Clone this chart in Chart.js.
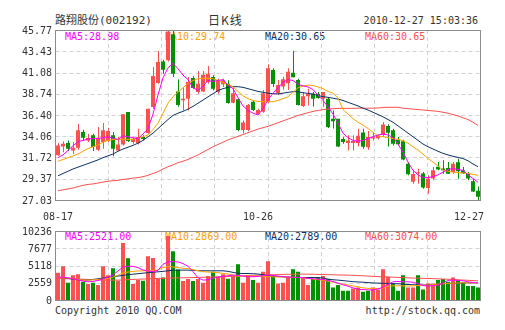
<!DOCTYPE html>
<html>
<head>
<meta charset="utf-8">
<script src="https://cdn.jsdelivr.net/npm/chart.js@4.4.1/dist/chart.umd.min.js"></script>
<style>
  body { margin: 0; background: #fff; }
  #wrap { position: relative; width: 505px; height: 330px; overflow: hidden; }
  #wrap canvas { position: absolute; left: 0; top: 0; }
  .t { position: absolute; white-space: nowrap; font: 10px "DejaVu Sans Mono", monospace; line-height: 12px; color: #333; }
</style>
</head>
<body>
<div id="wrap">
  <div class="t" style="left:55px;top:15px;font-size:11px;font-family:'DejaVu Sans Mono','Noto Sans CJK SC'">路翔股份(002192)</div>
  <div class="t" style="left:208px;top:14px;font-size:12px;font-family:'Noto Sans CJK SC';letter-spacing:1px">日K线</div>
  <div class="t" style="right:27px;top:15px">2010-12-27 15:03:36</div>
  <div class="t" style="left:55px;top:305px">Copyright 2010 QQ.COM</div>
  <div class="t" style="right:25px;top:305px">http://stock.qq.com</div>
  <div id="legends"></div>
  <canvas id="price-chart" width="505" height="330"></canvas>
  <canvas id="volume-chart" width="505" height="330"></canvas>
</div>
<script>
// daily candles, 08-17 .. 12-27
const open  = [31.95,32.94,33.31,32.50,32.80,34.52,33.60,34.16,32.58,33.42,33.53,34.16,32.50,33.16,36.73,33.42,33.31,33.97,34.41,37.28,
               39.93,42.31,42.43,45.30,39.00,38.02,38.20,40.48,38.93,39.00,40.04,40.60,38.93,39.78,39.85,37.76,38.13,34.75,34.75,37.87,
               36.51,36.77,37.87,41.36,38.79,39.53,39.89,41.07,40.26,37.39,38.46,38.75,38.75,38.20,38.20,36.00,35.99,33.75,33.31,33.30,
               33.30,34.48,32.85,33.80,33.85,34.20,35.19,34.73,33.66,33.50,31.02,29.05,29.97,29.95,28.35,29.40,30.69,30.50,30.55,30.13,
               31.20,30.30,29.91,29.10,28.04];
const high  = [33.30,33.50,33.60,33.42,35.44,34.78,34.34,34.34,35.08,35.52,35.00,34.52,33.97,36.47,36.73,33.97,34.89,34.16,37.10,41.69,
               43.45,42.50,45.77,45.77,40.30,39.50,40.60,40.66,41.25,41.25,41.80,40.77,40.40,40.40,40.22,39.50,38.20,35.80,37.60,37.94,
               37.10,39.15,42.00,41.55,40.26,40.63,41.55,43.49,40.40,38.93,39.30,38.93,38.93,38.93,38.38,36.90,36.00,33.97,34.16,34.16,
               34.89,34.89,34.63,34.52,34.20,35.63,35.37,34.89,33.97,33.68,31.22,30.30,30.48,30.11,29.75,30.67,31.22,31.40,31.22,31.22,
               31.58,30.67,30.11,29.38,28.53];
const low   = [31.90,32.28,32.43,32.10,32.58,33.60,33.42,32.43,32.43,32.69,33.42,31.84,32.43,33.05,33.42,33.24,33.16,33.60,34.34,37.10,
               39.85,40.95,42.30,40.60,37.30,36.90,36.90,39.30,38.75,38.93,39.85,39.12,38.75,39.50,37.65,37.70,34.60,34.40,34.60,36.84,
               36.40,36.66,37.70,39.50,38.60,39.19,39.16,40.55,37.46,37.28,37.46,37.35,38.20,37.28,34.97,34.90,32.87,33.24,32.50,32.50,
               32.94,32.69,32.58,33.60,33.70,33.97,32.94,33.05,33.05,31.40,29.75,28.83,28.83,28.28,27.73,29.20,30.30,29.93,29.93,29.93,
               29.38,29.93,29.20,27.90,27.03];
const close = [33.05,33.24,32.69,32.80,34.71,33.90,33.86,32.87,33.90,34.71,34.63,32.69,33.16,36.47,33.53,33.79,33.97,33.75,37.10,40.70,
               42.24,41.40,45.60,40.95,37.50,38.20,40.04,39.37,39.85,40.85,40.96,39.30,40.22,40.22,37.72,38.79,34.75,35.56,37.50,36.95,
               36.95,38.79,41.55,39.82,39.71,40.33,41.18,40.55,37.50,38.46,38.75,38.20,38.27,38.93,35.08,35.70,32.94,33.42,33.60,33.55,
               34.12,32.89,33.97,33.95,34.12,35.35,34.43,33.22,33.18,31.49,29.86,29.90,30.00,28.41,29.36,30.32,30.39,30.30,29.92,31.02,
               30.20,29.98,29.40,27.98,27.38];

// price moving averages
const ma5  = [31.7,32.0,32.5,33.0,33.45,33.6,33.75,33.8,33.8,33.9,34.0,33.85,33.7,34.1,34.0,33.9,33.8,34.3,34.9,36.5,
              38.6,40.5,41.6,42.1,41.5,40.8,40.3,39.4,39.1,39.6,40.2,40.1,40.2,40.3,39.7,39.3,38.3,37.4,36.9,36.6,
              36.4,37.1,38.1,38.8,39.4,40.0,40.3,40.2,39.8,39.6,39.5,39.2,38.6,38.0,37.3,36.5,35.5,34.4,33.9,33.6,
              33.5,33.6,33.8,34.0,34.2,34.3,34.2,33.9,33.2,32.3,31.2,30.3,29.8,29.5,29.5,29.6,29.8,30.1,30.4,30.5,
              30.4,30.3,29.8,29.4,28.98];
const ma10 = [31.3,31.5,31.7,31.9,32.1,32.4,32.7,32.9,33.1,33.4,33.6,33.7,33.7,33.72,33.72,33.72,33.85,34.0,34.2,34.8,
              35.5,36.6,37.7,38.4,38.9,39.4,39.9,40.2,40.4,40.45,40.45,40.4,40.2,40.0,39.8,39.5,39.0,38.5,38.2,38.0,
              37.9,37.87,37.87,37.87,38.0,38.2,38.4,38.9,39.4,39.6,39.7,39.65,39.5,39.3,39.0,38.8,38.3,37.0,36.5,36.0,
              35.6,35.3,34.9,34.5,34.1,34.0,33.9,33.8,33.7,33.57,33.3,32.9,32.54,32.1,31.6,31.2,30.8,30.3,30.2,30.1,
              30.05,30.0,29.97,29.85,29.74];
const ma20 = [29.7,29.95,30.2,30.45,30.65,30.85,31.05,31.25,31.45,31.7,31.9,32.1,32.4,32.65,32.85,33.05,33.3,33.6,34.0,34.4,
              34.9,35.4,35.9,36.35,36.6,36.8,37.05,37.35,37.7,38.05,38.4,38.75,39.1,39.3,39.45,39.52,39.52,39.45,39.3,39.15,
              39.0,38.9,38.8,38.75,38.72,38.8,38.9,38.97,38.95,38.85,38.79,38.7,38.55,38.42,38.35,38.25,38.15,38.0,37.8,37.6,
              37.4,37.15,36.95,36.7,36.45,36.2,35.9,35.6,35.2,34.8,34.4,34.0,33.6,33.2,32.9,32.65,32.4,32.17,32.0,31.85,
              31.72,31.6,31.35,31.0,30.7];
const ma60 = [28.05,28.15,28.25,28.35,28.5,28.65,28.75,28.8,28.9,29.0,29.1,29.15,29.2,29.3,29.35,29.45,29.5,29.6,29.75,29.95,
              30.15,30.45,30.7,30.9,31.15,31.3,31.5,31.75,32.0,32.3,32.6,32.9,33.15,33.4,33.65,33.85,34.05,34.25,34.45,34.65,
              34.85,35.0,35.15,35.35,35.55,35.75,35.95,36.15,36.35,36.5,36.65,36.8,36.9,37.0,37.05,37.1,37.13,37.13,37.13,37.13,
              37.15,37.15,37.15,37.15,37.18,37.22,37.25,37.25,37.25,37.15,37.1,37.05,37.0,36.95,36.9,36.85,36.8,36.7,36.6,36.45,
              36.3,36.1,35.9,35.6,35.25];

// volume and its colour (1 = red, 0 = green)
const volume = [4034,5018,2558,3690,3838,2706,2362,2558,2214,5018,3690,4723,2854,8462,6199,2362,2952,2854,6494,6248,
                3198,3346,9500,7232,4526,2804,3100,2804,3100,2558,3542,4182,3444,3838,3149,3690,5314,2558,3690,2952,
                2558,4182,5756,3690,2460,2558,3444,4576,4182,3346,2214,3100,3346,3542,3100,1870,2214,1378,1378,1722,
                1870,1230,1378,1870,1574,4576,3444,2362,1378,3690,1870,1870,3690,1574,2460,2460,2952,3100,2706,3346,
                2952,2558,2066,2066,1870];
const volUp  = [1,1,0,1,1,0,1,0,1,1,1,0,1,1,0,1,1,0,1,1,
                1,0,1,0,0,1,1,0,1,1,1,0,1,1,0,1,0,1,1,0,
                1,1,1,0,1,1,1,0,0,1,1,0,0,1,0,0,0,0,0,1,
                1,0,0,1,1,1,1,0,0,0,1,1,0,0,1,1,0,0,0,1,
                0,0,0,0,0];
const vma5  = [3420,3380,3300,3150,3000,2800,2700,2750,2900,3100,3400,3700,4300,4900,5000,5000,4800,4450,4300,4200,
               4400,5300,5650,5700,5650,5400,5000,4200,3300,2950,3000,3250,3400,3500,3600,3700,3650,3550,3450,3450,
               3500,3600,3700,3650,3550,3450,3400,3380,3350,3300,3200,3150,3100,3050,2900,2750,2500,2250,2050,1800,
               1600,1550,1500,1480,1650,1870,2300,2700,2750,2700,2700,2650,2400,2150,2066,2150,2214,2500,2900,2950,
               2900,2850,2700,2600,2521];
const vma10 = [3350,3300,3250,3150,3050,2950,2950,3000,3050,3100,3200,3400,3700,4000,4150,4250,4300,4330,4350,4400,
               4450,4800,4950,4900,4800,4700,4650,4500,4350,4200,4150,4100,4050,3950,3850,3700,3550,3540,3540,3530,
               3520,3500,3450,3430,3420,3400,3380,3360,3350,3300,3200,3100,3000,2950,2800,2650,2500,2350,2220,2100,
               1950,1800,1720,1720,1720,1750,2066,2100,2100,2100,2066,2100,2150,2180,2214,2280,2350,2400,2460,2500,
               2520,2540,2550,2560,2560];
const vma20 = [3350,3300,3200,3100,3000,2950,2950,3050,3150,3250,3350,3450,3550,3650,3750,3830,3900,3980,4050,4120,
               4180,4250,4330,4420,4430,4430,4430,4400,4350,4330,4330,4330,4330,4330,4250,4100,3950,3930,3930,3900,
               3850,3750,3600,3520,3480,3440,3400,3370,3350,3340,3340,3340,3340,3250,3100,3000,2950,2880,2800,2720,
               2680,2640,2580,2530,2500,2480,2460,2430,2400,2350,2300,2260,2230,2214,2230,2280,2330,2400,2460,2480,
               2500,2520,2540,2550,2560];
const vma60 = [3200,3180,3150,3120,3100,3080,3050,3020,3000,2970,2950,2950,2950,2980,3020,3050,3080,3110,3140,3170,
               3200,3220,3240,3260,3280,3300,3310,3330,3346,3370,3390,3410,3430,3460,3490,3520,3550,3590,3630,3660,
               3690,3710,3730,3750,3770,3790,3810,3830,3840,3840,3830,3820,3800,3780,3760,3740,3720,3700,3690,3660,
               3620,3590,3550,3510,3470,3440,3410,3380,3350,3320,3290,3260,3230,3210,3200,3170,3140,3110,3080,3040,
               3000,2960,2920,2880,2850];

// axis ticks and legend texts
const priceTicks = ['27.03','29.37','31.72','34.06','36.40','38.74','41.08','43.43','45.77'];
const volTicks = ['0','2559','5118','7677','10236'];
const dateTicks = ['08-17','10-26','12-27'];
const dateTickIdx = [0, 40, 84];
const maNames = ['MA5','MA10','MA20','MA60'];
const priceMaLast = ['28.98','29.74','30.65','30.65'];
const volMaLast = ['2521.00','2869.00','2789.00','3074.00'];

const RED = '#ff5050', GREEN = '#009000';
const maColors = ['#ff00ff', '#ffa200', '#0c3264', '#ff5050'];
const days = open.map((o, i) => String(i));
const candleColors = open.map((o, i) => close[i] >= open[i] ? RED : GREEN);

// legend texts sit under the canvases, like the original
const legendBox = document.querySelector('#legends');
maNames.forEach((name, k) => {
    [[priceMaLast[k], 31], [volMaLast[k], 231]].forEach(([val, top]) => {
        const d = document.createElement('div');
        d.className = 't';
        d.style.left = (65 + 100 * k) + 'px';
        d.style.top = top + 'px';
        d.style.color = maColors[k];
        d.textContent = name + ':' + val;
        legendBox.appendChild(d);
    });
});

// dashed grid, frame, tick labels
const panel = {
    id: 'panel',
    beforeDatasetsDraw(chart, args, opts) {
        const { ctx, chartArea: a, scales } = chart;
        ctx.save();
        ctx.strokeStyle = '#d2d2d2';
        ctx.lineWidth = 1;
        ctx.setLineDash([4, 3]);
        ctx.beginPath();
        opts.ticks.forEach(t => {
            const py = Math.round(scales.y.getPixelForValue(parseFloat(t))) + 0.5;
            ctx.moveTo(a.left, py);
            ctx.lineTo(a.right, py);
        });
        for (let k = 1; k < 8; k++) {
            const px = Math.round(a.left - 0.5 + a.width * k / 8) + 0.5;
            ctx.moveTo(px, a.top);
            ctx.lineTo(px, a.bottom);
        }
        ctx.stroke();
        ctx.restore();
    },
    beforeDatasetDraw(chart, args) {
        // wick sits one half pixel right of the body centre
        if (chart.data.datasets[args.index].label === 'wick') {
            chart.ctx.save();
            chart.ctx.translate(0.5, 0);
        }
    },
    afterDatasetDraw(chart, args) {
        if (chart.data.datasets[args.index].label === 'wick') chart.ctx.restore();
    },
    afterDraw(chart, args, opts) {
        const { ctx, chartArea: a, scales } = chart;
        ctx.save();
        ctx.strokeStyle = '#8c8c8c';
        ctx.lineWidth = 1;
        ctx.strokeRect(Math.floor(a.left) + 0.5, Math.round(a.top) + 0.5, Math.round(a.width), Math.round(a.height));
        ctx.fillStyle = '#333';
        ctx.font = '10px "DejaVu Sans Mono"';
        ctx.textAlign = 'right';
        ctx.textBaseline = 'middle';
        opts.ticks.forEach(t => ctx.fillText(t, 52, scales.y.getPixelForValue(parseFloat(t)) + 1));
        if (opts.dates) {
            ctx.textAlign = 'center';
            opts.dates.forEach((t, k) => {
                let px = scales.x.getPixelForValue(opts.dateIdx[k]);
                px = Math.min(px, 484 - 15);
                ctx.fillText(t, px, a.bottom + 17);
            });
        }
        ctx.restore();
    }
};

const maLine = (label, data, color) => ({
    type: 'line', label, data, borderColor: color, borderWidth: 1,
    pointRadius: 0, tension: 0, fill: false, order: 0
});

const baseOptions = (padding, yMin, yMax, panelOpts) => ({
    responsive: false,
    animation: false,
    events: [],
    layout: { padding },
    plugins: { legend: { display: false }, tooltip: { enabled: false }, panel: panelOpts },
    scales: {
        x: { display: false, offset: true },
        y: { display: false, min: yMin, max: yMax }
    }
});

// candlestick chart: floating bars for bodies and wicks
new Chart(document.querySelector('#price-chart').getContext('2d'), {
    type: 'bar',
    data: {
        labels: days,
        datasets: [
            maLine('MA5', ma5, maColors[0]),
            maLine('MA10', ma10, maColors[1]),
            maLine('MA20', ma20, maColors[2]),
            maLine('MA60', ma60, maColors[3]),
            {
                label: 'body', data: open.map((o, i) => [o, close[i]]),
                backgroundColor: candleColors, barThickness: 4, minBarLength: 1,
                inflateAmount: 0, grouped: false, order: 1
            },
            {
                label: 'wick', data: low.map((l, i) => [l, high[i]]),
                backgroundColor: candleColors, barThickness: 1, minBarLength: 1,
                inflateAmount: 0, grouped: false, order: 2
            }
        ]
    },
    options: baseOptions({ left: 55.5, right: 24.5, top: 30, bottom: 130 }, 27.03, 45.77,
        { ticks: priceTicks, dates: dateTicks, dateIdx: dateTickIdx }),
    plugins: [panel]
});

// volume chart
new Chart(document.querySelector('#volume-chart').getContext('2d'), {
    type: 'bar',
    data: {
        labels: days,
        datasets: [
            maLine('MA5', vma5, maColors[0]),
            maLine('MA10', vma10, maColors[1]),
            maLine('MA20', vma20, maColors[2]),
            maLine('MA60', vma60, maColors[3]),
            {
                label: 'volume', data: volume,
                backgroundColor: volUp.map(u => u ? RED : GREEN),
                barThickness: 4, inflateAmount: 0, grouped: false, order: 1
            }
        ]
    },
    options: baseOptions({ left: 55.5, right: 24.5, top: 231, bottom: 30 }, 0, 10236,
        { ticks: volTicks }),
    plugins: [panel]
});
</script>
</body>
</html>
